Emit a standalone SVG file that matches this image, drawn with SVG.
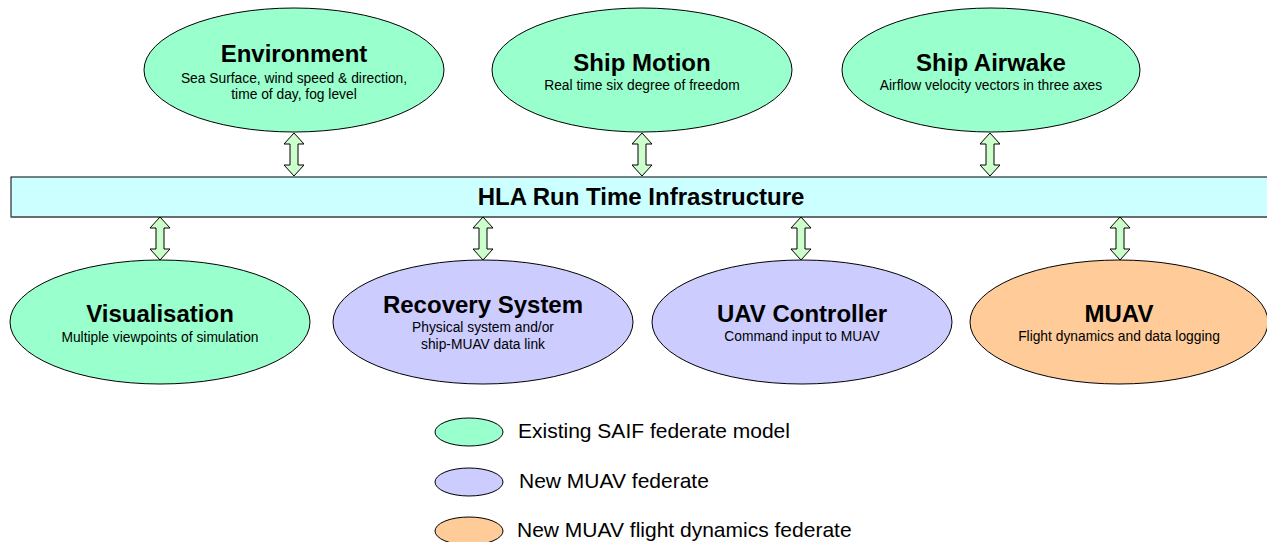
<svg xmlns="http://www.w3.org/2000/svg" xmlns:xlink="http://www.w3.org/1999/xlink" width="1267" height="542" viewBox="0 0 1267 542">
<style>
.e{stroke:#000;stroke-width:1}
.g{fill:#99FFCC}
.p{fill:#CCCCFF}
.o{fill:#FFCC99}
.t{font-family:"Liberation Sans",Arial,sans-serif;font-weight:bold;font-size:24px;text-anchor:middle;fill:#000}
.s{font-family:"Liberation Sans",Arial,sans-serif;font-size:13.8px;text-anchor:middle;fill:#000}
.l{font-family:"Liberation Sans",Arial,sans-serif;font-size:21px;fill:#000}
.a{fill:#CCFFCC;stroke:#000;stroke-width:1;stroke-linejoin:miter}
</style>
<defs>
<path id="arr" class="a" d="M0,0 L10,11 L4,11 L4,32 L10,32 L0,43 L-10,32 L-4,32 L-4,11 L-10,11 Z"/>
</defs>
<rect width="1267" height="542" fill="#fff"/>
<g id="hla">
<rect x="11" y="177" width="1262" height="40" fill="#CCFFFF" stroke="#000" stroke-width="1"/>
<line x1="11" y1="217" x2="1267" y2="217" stroke="#666" stroke-width="1.5"/>
<text class="t" x="641" y="205">HLA Run Time Infrastructure</text>
</g>
<g id="connectors">
<use xlink:href="#arr" x="294" y="133"/>
<use xlink:href="#arr" x="642" y="133"/>
<use xlink:href="#arr" x="990" y="133"/>
<use xlink:href="#arr" x="160" y="217"/>
<use xlink:href="#arr" x="483" y="217"/>
<use xlink:href="#arr" x="801" y="217"/>
<use xlink:href="#arr" x="1120" y="217"/>
</g>
<g id="environment">
<ellipse class="e g" cx="294" cy="70" rx="150" ry="62"/>
<text class="t" x="294" y="62">Environment</text>
<text class="s" x="294" y="83">Sea Surface, wind speed &amp; direction,</text>
<text class="s" x="294" y="99">time of day, fog level</text>
</g>
<g id="ship-motion">
<ellipse class="e g" cx="642" cy="70" rx="150" ry="62"/>
<text class="t" x="642" y="71">Ship Motion</text>
<text class="s" x="642" y="90">Real time six degree of freedom</text>
</g>
<g id="ship-airwake">
<ellipse class="e g" cx="991" cy="70" rx="149" ry="62"/>
<text class="t" x="991" y="71">Ship Airwake</text>
<text class="s" x="991" y="90">Airflow velocity vectors in three axes</text>
</g>
<g id="visualisation">
<ellipse class="e g" cx="160" cy="322" rx="150" ry="62"/>
<text class="t" x="160" y="322">Visualisation</text>
<text class="s" x="160" y="342">Multiple viewpoints of simulation</text>
</g>
<g id="recovery-system">
<ellipse class="e p" cx="483" cy="322" rx="150" ry="62"/>
<text class="t" x="483" y="313">Recovery System</text>
<text class="s" x="483" y="332">Physical system and/or</text>
<text class="s" x="483" y="349">ship-MUAV data link</text>
</g>
<g id="uav-controller">
<ellipse class="e p" cx="802" cy="322" rx="150" ry="62"/>
<text class="t" x="802" y="322">UAV Controller</text>
<text class="s" x="802" y="341">Command input to MUAV</text>
</g>
<g id="muav">
<ellipse class="e o" cx="1119" cy="322" rx="149" ry="62"/>
<text class="t" x="1119" y="322">MUAV</text>
<text class="s" x="1119" y="341">Flight dynamics and data logging</text>
</g>
<g id="legend">
<ellipse class="e g" cx="469" cy="432" rx="34" ry="14"/>
<text class="l" x="518" y="438">Existing SAIF federate model</text>
<ellipse class="e p" cx="469" cy="482" rx="34" ry="14"/>
<text class="l" x="519" y="488">New MUAV federate</text>
<ellipse class="e o" cx="469" cy="531" rx="34" ry="14"/>
<text class="l" x="517" y="537">New MUAV flight dynamics federate</text>
</g>
</svg>
